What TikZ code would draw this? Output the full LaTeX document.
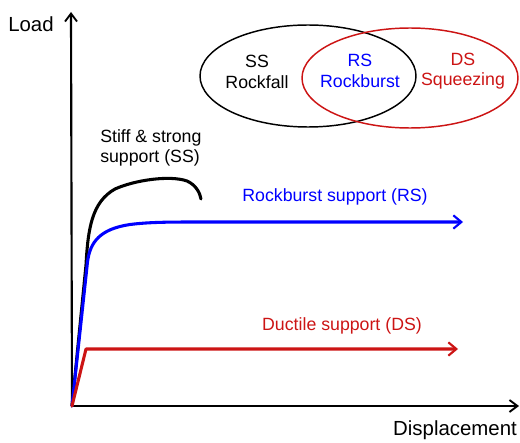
\documentclass[tikz,border=0pt]{standalone}
\usepackage{fontspec}
\setmainfont{Liberation Sans}
\usetikzlibrary{arrows.meta,shapes.geometric}
\definecolor{dsred}{RGB}{204,20,20}
\definecolor{rsblue}{RGB}{0,0,255}
\begin{document}
\begin{tikzpicture}[x=0.75pt,y=-0.75pt,
  axis/.style={line width=1.6pt,-{Straight Barb[length=6pt,width=9pt,line width=1.4pt]}},
  curve/.style={line width=2.3pt,line cap=round,line join=round},
  curvearrow/.style={curve,-{Straight Barb[length=6pt,width=10pt,line width=1.6pt]}},
  lbl/.style={font=\fontsize{13.3pt}{15.5pt}\selectfont,inner sep=0pt},
  axlbl/.style={font=\fontsize{15.3pt}{18pt}\selectfont,inner sep=0pt},
  venn/.style={line width=1.1pt,ellipse,inner sep=0pt}]
\useasboundingbox (0,0) rectangle (520,442);
% axes
\coordinate (O) at (72,406);
\coordinate (Ytip) at (71,12);
\coordinate (Xtip) at (519,406);
\draw[axis] (O) -- (Ytip);
\draw[axis] (O) -- (Xtip);
\node[axlbl] (load) at (31,24) {Load};
\node[axlbl] (disp) at (455,430) {Displacement};
% Venn
\node[venn,draw=black,minimum width=162pt,minimum height=76.5pt] (ssE) at (308,76) {};
\node[venn,draw=dsred,minimum width=162pt,minimum height=75pt] (dsE) at (410,78) {};
\node[lbl,align=center] (ssT) at (257,72) {SS\\Rockfall};
\node[lbl,align=center,text=rsblue] (rsT) at (360,71) {RS\\Rockburst};
\node[lbl,align=center,text=dsred] (dsT) at (463,71) {DS\\Squeezing};
% curves
\coordinate (ssEnd) at (201,199);
\draw[curve,black] (O) -- (86,265) .. controls (88,228) and (92,202) .. (115,189)
  .. controls (135,180) and (170,175) .. (187,181) .. controls (196,185) and (200,193) .. (ssEnd);
\coordinate (rsEnd) at (463,222);
\draw[curvearrow,rsblue] (O) -- (87.5,262) .. controls (90,242) and (100,229) .. (130,224.5)
  .. controls (150,222) and (170,222) .. (200,222) -- (rsEnd);
\coordinate (dsK) at (86,349);
\coordinate (dsEnd) at (458,349);
\draw[curvearrow,dsred] (O) -- (dsK) -- (dsEnd);
% labels
\node[lbl,align=left,anchor=west] (ssL) at (100,148) {Stiff \& strong\\support (SS)};
\node[lbl,text=rsblue] (rsL) at (335,197) {Rockburst support (RS)};
\node[lbl,text=dsred] (dsL) at (342,326) {Ductile support (DS)};
\end{tikzpicture}
\end{document}
